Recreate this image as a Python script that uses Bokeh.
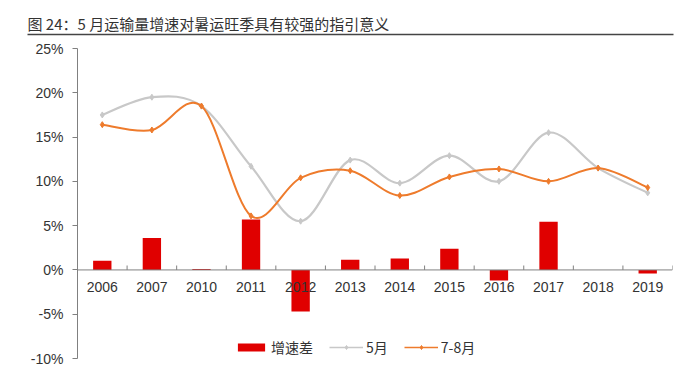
from bokeh.plotting import figure
from bokeh.layouts import column
from bokeh.models import (Range1d, FixedTicker, PrintfTickFormatter, LinearAxis, Span,
                          Legend, LegendItem, ColumnDataSource)
from bokeh.core.properties import value
from bokeh.embed import file_html
from bokeh.resources import INLINE

# ---- data ----
years = ["2006", "2007", "2010", "2011", "2012", "2013", "2014", "2015", "2016", "2017", "2018", "2019"]
may = [17.5, 19.5, 18.5, 11.7, 5.5, 12.4, 9.8, 12.9, 10.0, 15.5, 11.5, 8.7]
summer = [16.4, 15.8, 18.5, 6.1, 10.4, 11.2, 8.4, 10.5, 11.4, 10.0, 11.5, 9.3]
diff = [1.05, 3.6, 0.1, 5.7, -4.7, 1.15, 1.3, 2.4, -1.2, 5.45, 0.0, -0.4]
y_ticks = [-10, -5, 0, 5, 10, 15, 20, 25]
title_text = "图 24：5 月运输量增速对暑运旺季具有较强的指引意义"

LAT = "Liberation Sans"
CJK = "Noto Sans CJK SC"
TXT = "#333333"
RED = "#E00000"
GRAY = "#C8C8C8"
ORANGE = "#EE7B2C"
W = 682
NAN = float("nan")

# ---- title strip ----
tf = figure(width=W, height=40, output_backend="svg", toolbar_location=None,
            x_range=Range1d(0, W), y_range=Range1d(40, 0),
            x_axis_location=None, y_axis_location=None,
            min_border=0)
tf.frame_align = False
tf.outline_line_color = None
tf.grid.visible = False
tf.text(x=[27], y=[23], text=[title_text], text_font=value(CJK), text_font_size="15px",
        text_color=TXT, text_baseline="middle", text_align="left")
tf.segment(x0=[27], x1=[673], y0=[34], y1=[34], line_color="#444444", line_width=1.5)

# ---- main chart ----
n = len(years)
xc = [i + 0.5 for i in range(n)]

p = figure(width=W, height=328, output_backend="svg", toolbar_location=None,
           x_range=Range1d(0, n), y_range=Range1d(-10, 25),
           x_axis_location=None, y_axis_location=None,
           min_border_left=77, min_border_right=10, min_border_top=8, min_border_bottom=10)
p.frame_align = False
p.outline_line_color = None
p.grid.visible = False

yaxis = LinearAxis(ticker=FixedTicker(ticks=y_ticks), formatter=PrintfTickFormatter(format="%d%%"))
yaxis.major_tick_out = 5
yaxis.major_tick_in = 0
yaxis.minor_tick_out = 0
yaxis.minor_tick_in = 0
yaxis.axis_line_color = "#808080"
yaxis.major_tick_line_color = "#808080"
yaxis.major_label_text_font = LAT
yaxis.major_label_text_font_size = "14px"
yaxis.major_label_text_color = TXT
yaxis.major_label_standoff = 9
p.add_layout(yaxis, "left")

# zero line + category boundary ticks
p.add_layout(Span(location=0, dimension="width", line_color="#808080", line_width=1))
p.segment(x0=list(range(1, n + 1)), x1=list(range(1, n + 1)), y0=[0] * n, y1=[0.5] * n,
          line_color="#808080", line_width=1)

# bars
bars = p.vbar(x=xc, top=diff, bottom=0, width=0.37, fill_color=RED, line_color=None)

# smooth curves (Catmull-Rom control points, drawn with Bokeh's bezier glyph)
def bez(xs, ys):
    m = len(xs)
    d = dict(x0=[], y0=[], x1=[], y1=[], cx0=[], cy0=[], cx1=[], cy1=[])
    for i in range(m - 1):
        ip = max(i - 1, 0)
        inn = min(i + 2, m - 1)
        d["x0"].append(xs[i]); d["y0"].append(ys[i])
        d["x1"].append(xs[i + 1]); d["y1"].append(ys[i + 1])
        d["cx0"].append(xs[i] + (xs[i + 1] - xs[ip]) / 6)
        d["cy0"].append(ys[i] + (ys[i + 1] - ys[ip]) / 6)
        d["cx1"].append(xs[i + 1] - (xs[inn] - xs[i]) / 6)
        d["cy1"].append(ys[i + 1] - (ys[inn] - ys[i]) / 6)
    return ColumnDataSource(d)

p.bezier(source=bez(xc, may), x0="x0", y0="y0", x1="x1", y1="y1", cx0="cx0", cy0="cy0",
         cx1="cx1", cy1="cy1", line_color=GRAY, line_width=2.2)
s_may = p.scatter(xc, may, marker="diamond", size=6, fill_color=GRAY, line_color=GRAY)
p.bezier(source=bez(xc, summer), x0="x0", y0="y0", x1="x1", y1="y1", cx0="cx0", cy0="cy0",
         cx1="cx1", cy1="cy1", line_color=ORANGE, line_width=2)
s_sum = p.scatter(xc, summer, marker="diamond", size=6, fill_color=ORANGE, line_color=ORANGE)

# legend proxies (line renderers with no visible points, only for legend swatches)
l_may = p.line(x=[NAN, NAN], y=[NAN, NAN], line_color=GRAY, line_width=1.5)
l_sum = p.line(x=[NAN, NAN], y=[NAN, NAN], line_color=ORANGE, line_width=1.5)

# x labels
p.text(x=xc, y=[0] * n, text=years, text_font=value(LAT), text_font_size="14px",
       text_color=TXT, text_align="center", text_baseline="top", y_offset=12)

legend = Legend(items=[
    LegendItem(label="增速差", renderers=[bars]),
    LegendItem(label="5月", renderers=[l_may, s_may]),
    LegendItem(label="7-8月", renderers=[l_sum, s_sum]),
], orientation="horizontal", location=(157, 1))
legend.label_text_font = CJK
legend.label_text_font_size = "14px"
legend.label_text_color = TXT
legend.glyph_width = 34
legend.glyph_height = 10
legend.label_standoff = 3
legend.spacing = 16
legend.padding = 0
legend.margin = 0
legend.border_line_color = None
legend.background_fill_alpha = 0
legend.label_height = 14
p.add_layout(legend, "center")

open("out.html", "w").write(file_html(column(tf, p, spacing=0), INLINE))
